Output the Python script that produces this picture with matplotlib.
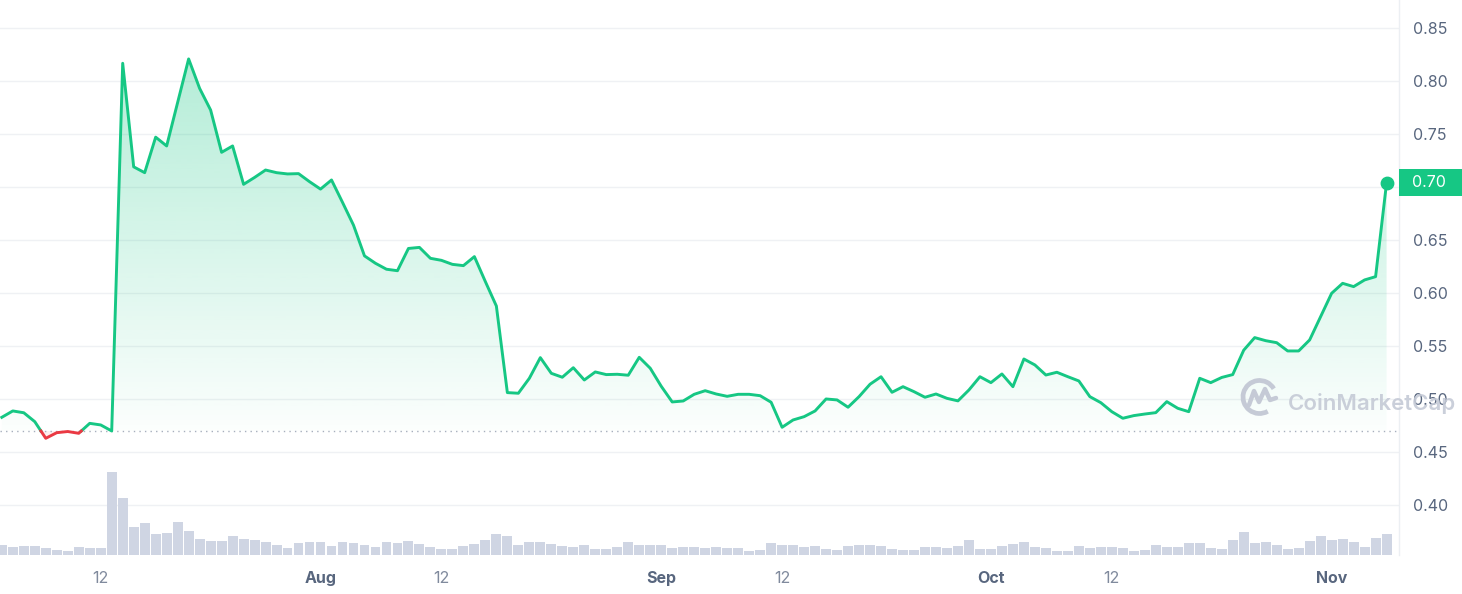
import numpy as np
import pandas as pd
import matplotlib
matplotlib.use("Agg")
import matplotlib.pyplot as plt
import matplotlib.dates as mdates
from matplotlib.path import Path
from matplotlib.patches import Rectangle, Arc
from matplotlib.transforms import Affine2D, blended_transform_factory
from matplotlib.lines import Line2D

plt.rcParams['font.family'] = ['Inter', 'DejaVu Sans']

# ---------------- data ----------------
start_date = "2023-07-03"
prices = [
    0.4827, 0.4887, 0.4870, 0.4786, 0.4629, 0.4682, 0.4693, 0.4676, 0.4770, 0.4755,
    0.4698, 0.8167, 0.7190, 0.7135, 0.7470, 0.7387, 0.7797, 0.8208, 0.7930, 0.7726,
    0.7327, 0.7387, 0.7025, 0.7090, 0.7160, 0.7135, 0.7123, 0.7126, 0.7050, 0.6980,
    0.7066, 0.6855, 0.6640, 0.6350, 0.6280, 0.6224, 0.6210, 0.6420, 0.6430, 0.6327,
    0.6308, 0.6270, 0.6258, 0.6343, 0.6107, 0.5877, 0.5060, 0.5054, 0.5195, 0.5390,
    0.5242, 0.5205, 0.5295, 0.5179, 0.5255, 0.5230, 0.5233, 0.5224, 0.5393, 0.5290,
    0.5120, 0.4972, 0.4981, 0.5044, 0.5078, 0.5047, 0.5025, 0.5044, 0.5044, 0.5031,
    0.4969, 0.4733, 0.4802, 0.4833, 0.4887, 0.5000, 0.4991, 0.4922, 0.5022, 0.5139,
    0.5210, 0.5063, 0.5116, 0.5069, 0.5016, 0.5047, 0.5006, 0.4982, 0.5085, 0.5210,
    0.5154, 0.5236, 0.5116, 0.5377, 0.5321, 0.5226, 0.5252, 0.5210, 0.5170, 0.5022,
    0.4965, 0.4880, 0.4818, 0.4843, 0.4858, 0.4871, 0.4975, 0.4912, 0.4880, 0.5195,
    0.5154, 0.5203, 0.5230, 0.5460, 0.5579, 0.5550, 0.5531, 0.5453, 0.5453, 0.5557,
    0.5777, 0.5997, 0.6091, 0.6060, 0.6123, 0.6154, 0.7040,
]
volumes = [
    10, 8, 9, 9, 7, 5, 4, 8, 7, 7,
    83, 57, 28, 32, 21, 22, 33, 24, 16, 14,
    14, 19, 16, 15, 13, 10, 7, 12, 12.7, 12.7,
    9.3, 12.7, 11.7, 9.7, 7.7, 12.7, 11.7, 14.3, 10.7, 7.7,
    5.7, 5.7, 8.7, 10.7, 14.7, 20.7, 18.7, 9.7, 12.7, 12.7,
    10.7, 8.7, 7.7, 9.7, 5.7, 5.7, 7.7, 12.7, 9.7, 9.7,
    9.7, 6.7, 8, 8, 6.7, 8, 6.7, 6.7, 3.7, 4.7,
    11.7, 9.7, 9.7, 7.7, 8.7, 5.7, 4.7, 8.7, 9.7, 9.7,
    8.7, 5.7, 4.7, 4.7, 7.7, 7.7, 6.7, 8.7, 14.7, 5.7,
    5.7, 8.7, 10.7, 12.7, 7.7, 6.7, 3.7, 3.7, 8.7, 6.7,
    7.7, 7.7, 6.7, 3.7, 4.7, 9.7, 7.7, 7.7, 11.7, 11.7,
    6.7, 5.7, 14.7, 22.7, 11.7, 12.7, 9.7, 5.7, 6.7, 13.7,
    18.7, 14.7, 15.7, 12.7, 7.7, 16.7, 20.7,
]
baseline_price = 0.4698
tick_dates = ["2023-07-12", "2023-08-01", "2023-08-12", "2023-09-01",
              "2023-09-12", "2023-10-01", "2023-10-12", "2023-11-01"]
tick_labels = ["12", "Aug", "12", "Sep", "12", "Oct", "12", "Nov"]
tick_is_month = [False, True, False, True, False, True, False, True]
y_ticks = [0.40, 0.45, 0.50, 0.55, 0.60, 0.65, 0.70, 0.75, 0.80, 0.85]

GREEN = "#16c784"
RED = "#ea3943"
BAR = "#cfd5e3"
GRID = "#eff1f4"
TXT = "#58667e"
TXT2 = "#808a9d"

# ---------------- figure ----------------
W, H = 1462, 594
fig = plt.figure(figsize=(W / 100, H / 100), dpi=100)
rect = [0, 39 / H, 1399 / W, 555 / H]
ax = fig.add_axes(rect, zorder=0)
axv = fig.add_axes(rect, zorder=1, sharex=ax)
axv.patch.set_alpha(0)
axv.axis("off")

dates = pd.date_range(start_date, periods=len(prices), freq="D")
x = mdates.date2num(dates)
p = np.array(prices)
b = baseline_price

# split line at crossings of the baseline
xs, ps = [x[0]], [p[0]]
for i in range(len(p) - 1):
    d0, d1 = p[i] - b, p[i + 1] - b
    if d0 * d1 < 0:
        t = d0 / (d0 - d1)
        xs.append(x[i] + t * (x[i + 1] - x[i]))
        ps.append(b)
    xs.append(x[i + 1])
    ps.append(p[i + 1])
xs, ps = np.array(xs), np.array(ps)
g = np.where(ps >= b - 1e-9, ps, np.nan)
r = np.where(ps <= b + 1e-9, ps, np.nan)

# gradient fill above baseline
coll = ax.fill_between(xs, ps, b, where=ps >= b - 1e-9, facecolor="none",
                       edgecolor="none", interpolate=True)
clip = Path.make_compound_path(*coll.get_paths())
top = 0.83
n = 256
alpha = np.linspace(0.33, 0.015, n)[:, None]
grad = np.zeros((n, 1, 4))
grad[..., 0] = 22 / 255
grad[..., 1] = 199 / 255
grad[..., 2] = 132 / 255
grad[..., 3] = alpha
im = ax.imshow(grad, extent=[x[0] - 1, x[-1] + 1, b, top], aspect="auto",
               origin="upper", zorder=1, interpolation="bilinear")
im.set_clip_path(clip, transform=ax.transData)
ax.fill_between(xs, ps, b, where=ps <= b + 1e-9, facecolor=RED, alpha=0.08,
                edgecolor="none", interpolate=True, zorder=1)

ax.set_xlim(x[0] - 0.164, x[0] + 127.13)
ax.set_ylim(0.3528, 0.8764)
axv.set_ylim(0, 555)

ax.plot(xs, g, color=GREEN, lw=2.1, solid_joinstyle="round", zorder=3)
ax.plot(xs, r, color=RED, lw=2.1, solid_joinstyle="round", zorder=3)
ax.scatter([x[-1]], [p[-1]], s=80, color=GREEN, zorder=4, clip_on=False)

# baseline dotted
ax.axhline(b, color="#a7afbd", lw=1.0, ls=(0, (1, 3)), zorder=2)

# grid
for yt in y_ticks:
    ax.axhline(yt, color=GRID, lw=1, zorder=0.5)

# volume bars
axv.bar(x, volumes, width=0.9, color=BAR, edgecolor="none")

# axes styling
for s in ["top", "left", "bottom"]:
    ax.spines[s].set_visible(False)
ax.spines["right"].set_color("#eceff3")
ax.spines["right"].set_linewidth(1)
ax.yaxis.tick_right()
ax.set_yticks(y_ticks)
# the 0.70 tick is covered by the current-price tag, as in the reference
ax.set_yticklabels(["" if abs(v - 0.70) < 1e-9 else f"{v:.2f}" for v in y_ticks])
ax.tick_params(axis="y", length=0, pad=10, labelsize=11.5, labelcolor=TXT)
ax.set_xticks(mdates.date2num(pd.to_datetime(tick_dates)))
ax.set_xticklabels(tick_labels)
ax.tick_params(axis="x", length=0, pad=11.5, labelsize=11.5)
for lab, m in zip(ax.get_xticklabels(), tick_is_month):
    if m:
        lab.set_fontweight("bold")
        lab.set_color(TXT)
    else:
        lab.set_color(TXT2)

# current price tag
bt = blended_transform_factory(fig.transFigure, ax.transData)
fig.patches.append(Rectangle((1399 / W, p[-1] - 0.0128), 1 - 1399 / W, 0.0256,
                             transform=bt, facecolor=GREEN, edgecolor="none",
                             zorder=5))
fig.text(1412 / W, p[-1], f"{p[-1]:.2f}", transform=bt, color="white",
         fontsize=11.5, va="center", ha="left", zorder=6)

# watermark
pix = Affine2D().scale(1 / W, -1 / H).translate(0, 1) + fig.transFigure
wm = "#c5cad6"
fig.patches.append(Arc((1259.5, 397), 33, 33, theta1=60, theta2=330,
                       transform=pix, color=wm, lw=3.4, zorder=7))
fig.lines.append(Line2D([1249, 1254, 1259, 1265, 1270, 1276],
                        [405, 391, 402, 389, 400, 398], transform=pix,
                        color=wm, lw=3.2, solid_joinstyle="round",
                        solid_capstyle="round", zorder=7))
fig.text(1288 / W, 1 - 410 / H, "CoinMarketCap", fontsize=16,
         fontweight="semibold", color=wm, alpha=0.9, ha="left",
         va="baseline", zorder=7)

fig.savefig("out.png", dpi=100, facecolor="white")
